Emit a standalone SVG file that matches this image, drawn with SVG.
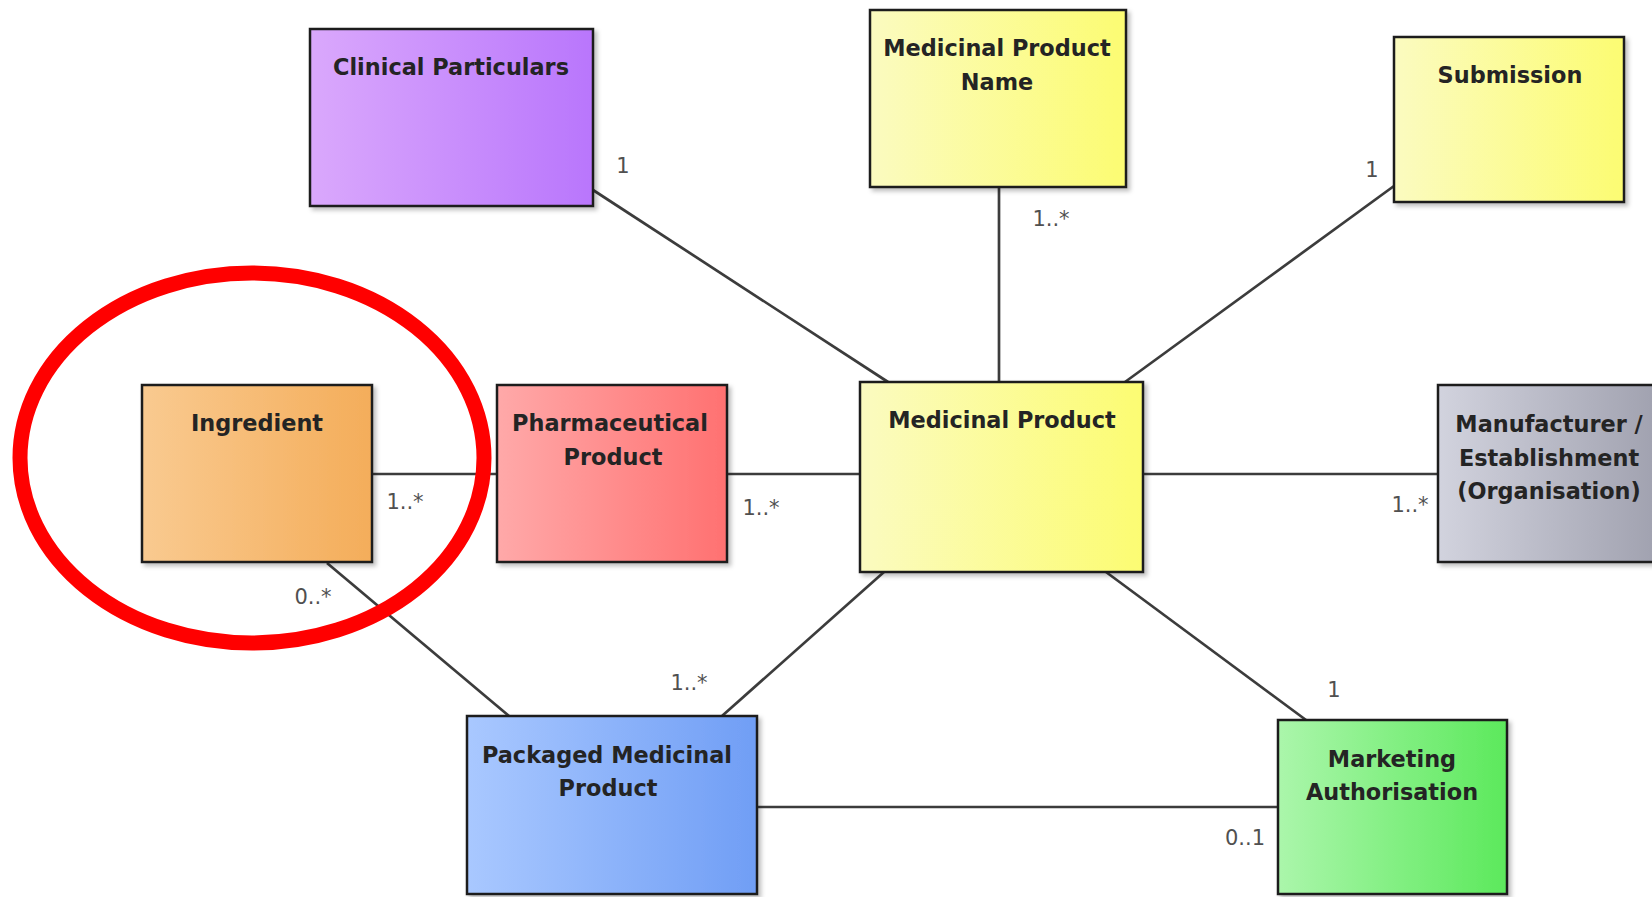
<svg xmlns="http://www.w3.org/2000/svg" width="1652" height="897" viewBox="0 0 1652 897">
<defs>
<linearGradient id="gPurple" x1="0" y1="0" x2="1" y2="0"><stop offset="0" stop-color="#daa8fc"/><stop offset="1" stop-color="#b976fc"/></linearGradient>
<linearGradient id="gYellow" x1="0" y1="0" x2="1" y2="0"><stop offset="0" stop-color="#fbfbc0"/><stop offset="1" stop-color="#fcfc72"/></linearGradient>
<linearGradient id="gOrange" x1="0" y1="0" x2="1" y2="0"><stop offset="0" stop-color="#f9ca90"/><stop offset="1" stop-color="#f4ad5a"/></linearGradient>
<linearGradient id="gPink" x1="0" y1="0" x2="1" y2="0"><stop offset="0" stop-color="#ffa9a9"/><stop offset="1" stop-color="#ff7171"/></linearGradient>
<linearGradient id="gGrey" x1="0" y1="0" x2="1" y2="0"><stop offset="0" stop-color="#d2d3de"/><stop offset="1" stop-color="#9fa0ae"/></linearGradient>
<linearGradient id="gBlue" x1="0" y1="0" x2="1" y2="0"><stop offset="0" stop-color="#a9c8ff"/><stop offset="1" stop-color="#709ef5"/></linearGradient>
<linearGradient id="gGreen" x1="0" y1="0" x2="1" y2="0"><stop offset="0" stop-color="#abf6ab"/><stop offset="1" stop-color="#5ce95c"/></linearGradient>
<filter id="shadow" x="-10%" y="-10%" width="130%" height="130%">
<feDropShadow dx="3" dy="3" stdDeviation="2" flood-color="#000" flood-opacity="0.25"/>
</filter>
</defs>
<style>
.box{stroke:#1c1c1c;stroke-width:2.5;filter:url(#shadow)}
.title{font-family:"DejaVu Sans",Verdana,sans-serif;font-weight:bold;font-size:22.4px;fill:#242424;text-anchor:middle}
.mult{font-family:"DejaVu Sans",Verdana,sans-serif;font-size:21px;fill:#505050;text-anchor:middle}
.conn line{stroke:#3c3c3c;stroke-width:2.7}
.mark{fill:none;stroke:#ff0000;stroke-width:15}
</style>
<rect width="1652" height="897" fill="#ffffff"/>

<g id="connectors" class="conn">
<line x1="593" y1="190" x2="888" y2="382"/>
<line x1="999" y1="187" x2="999" y2="382"/>
<line x1="1394" y1="186" x2="1125" y2="382"/>
<line x1="372" y1="474" x2="497" y2="474"/>
<line x1="727" y1="474" x2="860" y2="474"/>
<line x1="1143" y1="474" x2="1438" y2="474"/>
<line x1="327" y1="563" x2="509" y2="716"/>
<line x1="884" y1="572" x2="722" y2="716"/>
<line x1="1106" y1="572" x2="1306" y2="720"/>
<line x1="757" y1="807" x2="1278" y2="807"/>
</g>

<g id="multiplicities">
<text class="mult" x="623" y="173">1</text>
<text class="mult" x="1051" y="226">1..*</text>
<text class="mult" x="1372" y="177">1</text>
<text class="mult" x="405" y="509">1..*</text>
<text class="mult" x="761" y="515">1..*</text>
<text class="mult" x="1410" y="512">1..*</text>
<text class="mult" x="313" y="604">0..*</text>
<text class="mult" x="689" y="690">1..*</text>
<text class="mult" x="1334" y="697">1</text>
<text class="mult" x="1245" y="845">0..1</text>
</g>

<g id="clinical-particulars">
<rect class="box" x="310" y="29" width="283" height="177" fill="url(#gPurple)"/>
<text class="title" x="451" y="75">Clinical Particulars</text>
</g>
<g id="medicinal-product-name">
<rect class="box" x="870" y="10" width="256" height="177" fill="url(#gYellow)"/>
<text class="title" x="997" y="56">Medicinal Product</text>
<text class="title" x="997" y="90">Name</text>
</g>
<g id="submission">
<rect class="box" x="1394" y="37" width="230" height="165" fill="url(#gYellow)"/>
<text class="title" x="1510" y="83">Submission</text>
</g>
<g id="ingredient">
<rect class="box" x="142" y="385" width="230" height="177" fill="url(#gOrange)"/>
<text class="title" x="257" y="431">Ingredient</text>
</g>
<g id="pharmaceutical-product">
<rect class="box" x="497" y="385" width="230" height="177" fill="url(#gPink)"/>
<text class="title" x="610" y="431">Pharmaceutical</text>
<text class="title" x="613" y="465">Product</text>
</g>
<g id="medicinal-product">
<rect class="box" x="860" y="382" width="283" height="190" fill="url(#gYellow)"/>
<text class="title" x="1002" y="428">Medicinal Product</text>
</g>
<g id="manufacturer">
<rect class="box" x="1438" y="385" width="226" height="177" fill="url(#gGrey)"/>
<text class="title" x="1549" y="432">Manufacturer /</text>
<text class="title" x="1549" y="466">Establishment</text>
<text class="title" x="1549" y="499">(Organisation)</text>
</g>
<g id="packaged-medicinal-product">
<rect class="box" x="467" y="716" width="290" height="178" fill="url(#gBlue)"/>
<text class="title" x="607" y="763">Packaged Medicinal</text>
<text class="title" x="608" y="796">Product</text>
</g>
<g id="marketing-authorisation">
<rect class="box" x="1278" y="720" width="229" height="174" fill="url(#gGreen)"/>
<text class="title" x="1392" y="767">Marketing</text>
<text class="title" x="1392" y="800">Authorisation</text>
</g>

<g id="highlight">
<ellipse class="mark" cx="252" cy="458" rx="232" ry="185"/>
</g>
</svg>
